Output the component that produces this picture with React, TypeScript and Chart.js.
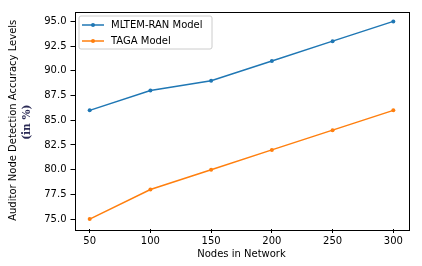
import React, { useEffect, useRef } from "react";
import { Chart, registerables } from "chart.js";

Chart.register(...registerables);

const nodes = [50, 100, 150, 200, 250, 300];
const mltemRan = [86, 88, 89, 91, 93, 95];
const taga = [75, 78, 80, 82, 84, 86];
const xTicks = [50, 100, 150, 200, 250, 300];
const yTicks = [75, 77.5, 80, 82.5, 85, 87.5, 90, 92.5, 95];
const seriesNames = ["MLTEM-RAN Model", "TAGA Model"];
const colors = ["#1f77b4", "#ff7f0e"];
const xTitle = "Nodes in Network";
const yTitle1 = "Auditor Node Detection Accuracy Levels";
const yTitle2 = "(in %)";

const FONT = "DejaVu Sans";

const decorPlugin = {
  id: "decor",
  afterDraw(chart: any) {
    const { ctx, chartArea } = chart;
    const { left, right, top, bottom } = chartArea;
    ctx.save();
    // frame
    ctx.strokeStyle = "#000";
    ctx.lineWidth = 1;
    ctx.strokeRect(Math.round(left) + 0.5, Math.round(top) + 0.5, Math.round(right - left), Math.round(bottom - top));

    // legend
    const lx = left + 4.5;
    const ly = top + 4.5;
    const lw = 133;
    const lh = 33;
    ctx.beginPath();
    const r = 2;
    ctx.moveTo(lx + r, ly);
    ctx.lineTo(lx + lw - r, ly);
    ctx.quadraticCurveTo(lx + lw, ly, lx + lw, ly + r);
    ctx.lineTo(lx + lw, ly + lh - r);
    ctx.quadraticCurveTo(lx + lw, ly + lh, lx + lw - r, ly + lh);
    ctx.lineTo(lx + r, ly + lh);
    ctx.quadraticCurveTo(lx, ly + lh, lx, ly + lh - r);
    ctx.lineTo(lx, ly + r);
    ctx.quadraticCurveTo(lx, ly, lx + r, ly);
    ctx.closePath();
    ctx.fillStyle = "rgba(255,255,255,0.8)";
    ctx.fill();
    ctx.strokeStyle = "#cccccc";
    ctx.stroke();
    seriesNames.forEach((name, i) => {
      const y = ly + 9 + i * 16;
      ctx.strokeStyle = colors[i];
      ctx.lineWidth = 1.5;
      ctx.beginPath();
      ctx.moveTo(lx + 3, y);
      ctx.lineTo(lx + 25, y);
      ctx.stroke();
      ctx.fillStyle = colors[i];
      ctx.beginPath();
      ctx.arc(lx + 14, y, 2, 0, Math.PI * 2);
      ctx.fill();
      ctx.fillStyle = "#000";
      ctx.font = `10px "${FONT}"`;
      ctx.textAlign = "left";
      ctx.textBaseline = "middle";
      ctx.fillText(name, lx + 32, y);
    });

    // axis titles
    ctx.fillStyle = "#000";
    ctx.font = `10px "${FONT}"`;
    ctx.textAlign = "center";
    ctx.textBaseline = "middle";
    ctx.fillText(xTitle, (left + right) / 2, 254);
    const cy = (top + bottom) / 2;
    ctx.save();
    ctx.translate(13, cy);
    ctx.rotate(-Math.PI / 2);
    ctx.fillText(yTitle1, 0, 0);
    ctx.restore();
    ctx.save();
    ctx.translate(27, cy + 2);
    ctx.rotate(-Math.PI / 2);
    ctx.font = `bold 10.5px "DejaVu Serif"`;
    ctx.fillStyle = "#2a2a55";
    ctx.fillText(yTitle2, 0, 0);
    ctx.restore();
    ctx.restore();
  },
};

export default function App() {
  const ref = useRef<HTMLCanvasElement | null>(null);
  useEffect(() => {
    document.body.style.margin = "0";
    const canvas = ref.current!;
    const tickFont = { family: FONT, size: 10 };
    const chart = new Chart(canvas, {
      type: "line",
      data: {
        datasets: [mltemRan, taga].map((vals, i) => ({
          label: seriesNames[i],
          data: nodes.map((n, j) => ({ x: n, y: vals[j] })),
          borderColor: colors[i],
          backgroundColor: colors[i],
          borderWidth: 1.5,
          pointRadius: 2,
          pointBorderWidth: 0,
          pointBackgroundColor: colors[i],
          tension: 0,
        })),
      },
      options: {
        responsive: false,
        animation: false,
        layout: { padding: { top: 11.5, right: 13.5, left: 0, bottom: 0 } },
        plugins: { legend: { display: false }, tooltip: { enabled: false } },
        scales: {
          x: {
            type: "linear",
            min: 37.5,
            max: 312.5,
            afterBuildTicks: (axis: any) => {
              axis.ticks = xTicks.map((v) => ({ value: v }));
            },
            afterFit: (axis: any) => {
              axis.height = 37;
            },
            grid: { drawOnChartArea: false, drawTicks: true, tickLength: 4, color: "#000" },
            border: { display: false },
            ticks: { font: tickFont, color: "#000", padding: 2, autoSkip: false, maxRotation: 0 },
          },
          y: {
            type: "linear",
            min: 74,
            max: 96,
            afterBuildTicks: (axis: any) => {
              axis.ticks = yTicks.map((v) => ({ value: v }));
            },
            afterFit: (axis: any) => {
              axis.width = 74.5;
            },
            grid: { drawOnChartArea: false, drawTicks: true, tickLength: 4, color: "#000" },
            border: { display: false },
            ticks: {
              font: tickFont,
              color: "#000",
              padding: 4,
              autoSkip: false,
              callback: (v: any) => Number(v).toFixed(1),
            },
          },
        },
      } as any,
      plugins: [decorPlugin],
    });
    return () => chart.destroy();
  }, []);
  return (
    <div style={{ width: 422, height: 266 }}>
      <canvas ref={ref} width={422} height={266} style={{ width: 422, height: 266 }} />
    </div>
  );
}
